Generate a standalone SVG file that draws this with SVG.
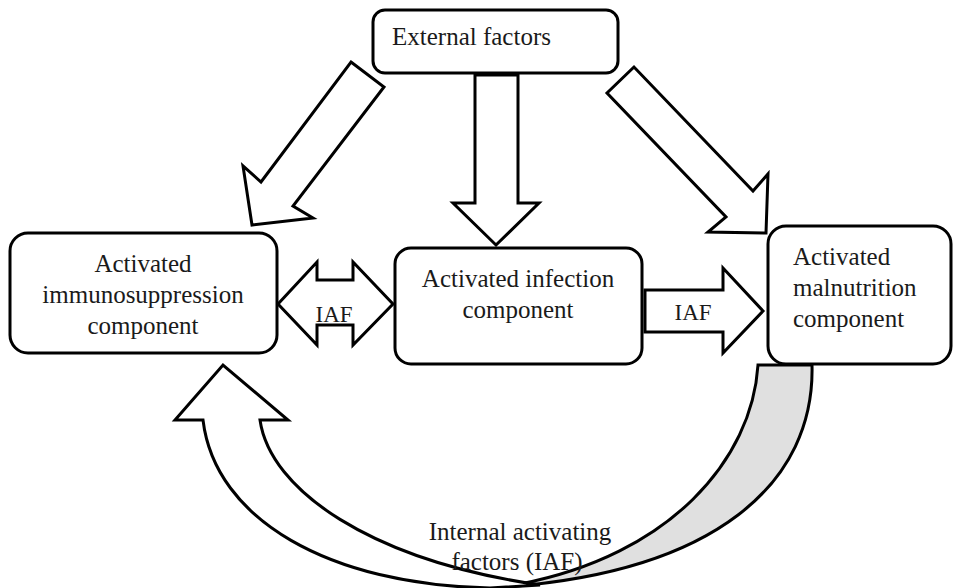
<svg xmlns="http://www.w3.org/2000/svg" width="954" height="588" viewBox="0 0 954 588">
<style>
.box{fill:#fff;stroke:#000;stroke-width:3}
.arr{fill:#fff;stroke:#000;stroke-width:3;stroke-linejoin:miter}
.gray{fill:#e0e0e0;stroke:#000;stroke-width:3}
text{font-family:"Liberation Serif","Times New Roman",serif;font-size:25px;fill:#1a1a1a}
.c{text-anchor:middle}
.s{font-size:23px}
</style>
<rect width="954" height="588" fill="#fff"/>
<g id="connectors">
  <polygon class="arr" points="351,62 384,87 293,206 313,218 252,225 243,166 261,182"/>
  <polygon class="arr" points="475,75 518,75 518,203 539,203 496,245 453,203 475,203"/>
  <polygon class="arr" points="634,67 607,93 726,217 708,232 766,233 768,174 753,191"/>
  <polygon class="arr" points="278,304 317,262 317,280 353,280 353,262 393,304 353,345 353,325 317,325 317,345"/>
  <polygon class="arr" points="645,290 723,290 723,268 763,311 723,353 723,332 645,332"/>
  <path class="gray" d="M812,365 C815,480 720,575 490,588 L520,584 C670,555 752,460 758,365 Z"/>
  <path class="arr" d="M203,420 L175,420 L223,365 L288,420 L260,420 C270,490 370,560 540,585 L490,588 C330,585 215,520 203,420 Z"/>
  <text class="s c" x="334" y="322">IAF</text>
  <text class="s c" x="693" y="320">IAF</text>
  <text class="c" x="520" y="540">Internal activating</text>
  <text class="c" x="517" y="570">factors (IAF)</text>
</g>
<g id="external">
  <rect class="box" x="373" y="10" width="245" height="63" rx="12"/>
  <text x="392" y="45">External factors</text>
</g>
<g id="immuno">
  <rect class="box" x="10" y="233" width="267" height="120" rx="18"/>
  <text class="c" x="143" y="272">Activated</text>
  <text class="c" x="143" y="303">immunosuppression</text>
  <text class="c" x="143" y="334">component</text>
</g>
<g id="infection">
  <rect class="box" x="395" y="248" width="247" height="116" rx="16"/>
  <text class="c" x="518" y="287">Activated infection</text>
  <text class="c" x="518" y="318">component</text>
</g>
<g id="malnutrition">
  <rect class="box" x="768" y="226" width="183" height="138" rx="18"/>
  <text x="793" y="265">Activated</text>
  <text x="793" y="296">malnutrition</text>
  <text x="793" y="327">component</text>
</g>
</svg>
